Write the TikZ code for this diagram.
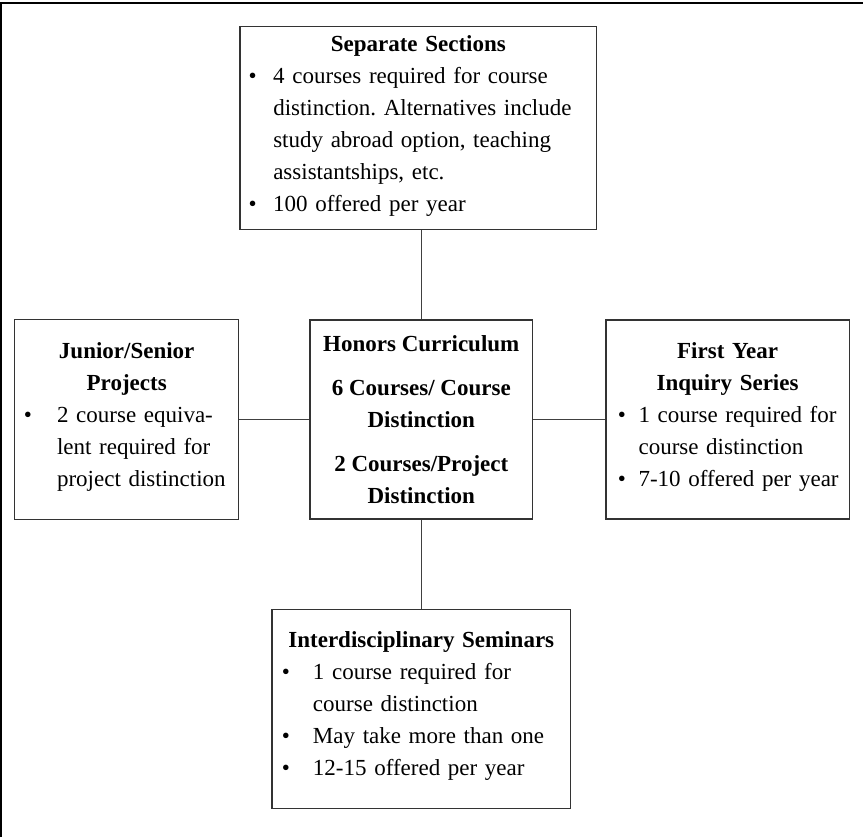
\documentclass[tikz,border=0pt]{standalone}
\usepackage{fontspec}
\setmainfont{Liberation Serif}
\usepackage{tikz}
\usetikzlibrary{positioning}
\newcommand{\boxfont}{\fontsize{11.5}{16}\selectfont}
\frenchspacing

\begin{document}
\begin{tikzpicture}[
    x=0.5pt, y=0.5pt,
    node distance=44.5pt and 36pt,
    box/.style={rectangle, draw=black!80, line width=0.6pt, font=\boxfont, inner ysep=0pt},
    link/.style={draw=black!75, line width=0.6pt}
]
\useasboundingbox (0,0) rectangle (863,-837);
\draw[line width=1pt] (1,-837) -- (1,-3.3) -- (863,-3.3);

\node[box, align=center, font=\boxfont\bfseries, minimum width=111.4pt, minimum height=99.5pt] (hon) at (421.3,-419.5)
  {Honors Curriculum\\[6pt]6 Courses/ Course\\Distinction\\[6pt]2 Courses/Project\\Distinction};

\node[box, above=of hon, xshift=-1.5pt, minimum width=178.4pt, minimum height=101.7pt, text width=169.7pt, inner xsep=4.35pt] (sep) {%
  {\centering\textbf{Separate Sections}\par}
  \begin{tabular}[t]{@{}l@{\hspace{8.3pt}}l@{}}
  \textbullet & 4 courses required for course\\
   & distinction. Alternatives include\\
   & study abroad option, teaching\\
   & assistantships, etc.\\
  \textbullet & 100 offered per year
  \end{tabular}};

\node[box, left=35pt of hon, minimum width=112pt, minimum height=100pt, text width=102.7pt, inner xsep=4.65pt] (jun) {%
  {\centering\textbf{Junior/Senior}\\\textbf{Projects}\par}
  \begin{tabular}[t]{@{}l@{\hspace{12.5pt}}l@{}}
  \textbullet & 2 course equiva-\\
   & lent required for\\
   & project distinction
  \end{tabular}};

\node[box, right=of hon, minimum width=121.7pt, minimum height=99.5pt, text width=109.7pt, inner xsep=6pt] (fy) {%
  {\centering\textbf{First Year}\\\textbf{Inquiry Series}\par}
  \begin{tabular}[t]{@{}l@{\hspace{6.3pt}}l@{}}
  \textbullet & 1 course required for\\
   & course distinction\\
  \textbullet & 7-10 offered per year
  \end{tabular}};

\node[box, below=of hon, minimum width=149.4pt, minimum height=99.5pt, text width=139.4pt, inner xsep=5pt] (int) {%
  {\centering\textbf{Interdisciplinary Seminars}\par}
  \begin{tabular}[t]{@{}l@{\hspace{11.5pt}}l@{}}
  \textbullet & 1 course required for\\
   & course distinction\\
  \textbullet & May take more than one\\
  \textbullet & 12-15 offered per year
  \end{tabular}};

\draw[link] (hon.north) -- (hon.north |- sep.south);
\draw[link] (hon) -- (jun);
\draw[link] (hon) -- (fy);
\draw[link] (hon) -- (int);
\end{tikzpicture}
\end{document}
